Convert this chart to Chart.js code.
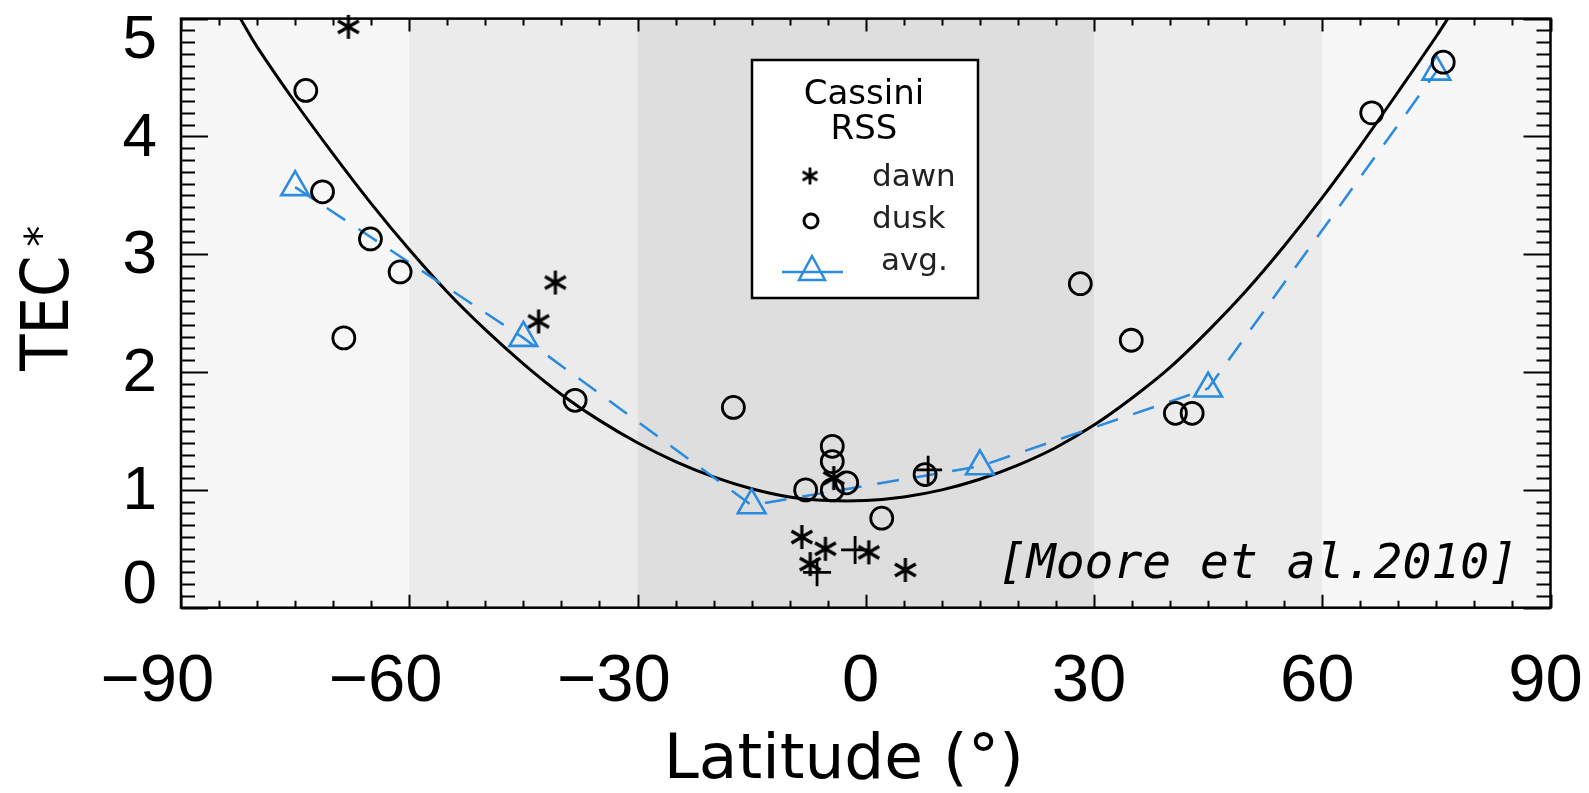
<!DOCTYPE html>
<html>
<head>
<meta charset="utf-8">
<title>TEC vs latitude</title>
<style>
  html, body { margin: 0; padding: 0; background: #fff; }
  #wrap { width: 1589px; height: 793px; }
</style>
</head>
<body>
<div id="wrap"><canvas id="tecChart" width="1589" height="793"></canvas></div>

<script src="https://cdn.jsdelivr.net/npm/chart.js@4.4.1/dist/chart.umd.min.js"></script>
<script>
// Cassini RSS, dawn occultations (asterisks)
var dawnLat = [-68.0, -40.8, -43.0, -8.4, -5.3, -7.3, 0.4, 5.2, -4.2];
var dawnTec = [4.93, 2.76, 2.43, 0.60, 0.50, 0.37, 0.47, 0.32, 1.10];

// dusk occultations (circles)
var duskLat = [-73.6, -71.4, -65.1, -61.2, -68.6, -38.2, -17.4, -4.4, -4.4, -7.9, -4.4, -2.5, 2.1, 7.8, 28.2, 34.9, 40.7, 42.9, 66.5, 75.9];
var duskTec = [4.39, 3.53, 3.13, 2.85, 2.29, 1.76, 1.70, 1.37, 1.24, 1.00, 1.00, 1.06, 0.76, 1.13, 2.75, 2.27, 1.65, 1.65, 4.20, 4.63];

// extra plus marks
var plusLat = [-1.4, -6.4, 8.2];
var plusTec = [0.49, 0.30, 1.17];

// 30-degree bin averages (blue triangles)
var avgLat = [-75, -45, -15, 15, 45, 75];
var avgTec = [3.57, 2.29, 0.87, 1.20, 1.86, 4.55];

// fitted curve (black)
var fitLat = [-82.2, -80, -75, -70, -65, -60, -55, -50, -45, -40, -35, -30, -25, -20, -15, -10, -5, 0,
              5, 10, 15, 20, 25, 30, 35, 40, 45, 50, 55, 60, 65, 70, 75, 76.5];
var fitTec = [5.0, 4.76, 4.29, 3.85, 3.43, 3.04, 2.68, 2.36, 2.07, 1.81, 1.59, 1.40, 1.24, 1.11, 1.01, 0.94, 0.91, 0.91,
              0.94, 1.0, 1.09, 1.21, 1.36, 1.55, 1.78, 2.04, 2.35, 2.69, 3.07, 3.48, 3.92, 4.38, 4.85, 5.0];

var xTicks = [-90, -60, -30, 0, 30, 60, 90];
var yTicks = [0, 1, 2, 3, 4, 5];

// shaded latitude bands
var bandEdges = [-90, -60, -30, 30, 60, 90];
var bandColors = ['#f7f7f7', '#ebebeb', '#dedede', '#ebebeb', '#f7f7f7'];

var BLUE = '#2a8be0';
var DIGITS = "'Liberation Sans', Arial, sans-serif";
var TITLES = "'DejaVu Sans', sans-serif";

function pts(xs, ys) {
  return xs.map(function (x, i) { return { x: x, y: ys[i] }; });
}

// IDL-like asterisk as an image point style
function makeAsterisk(size, lw) {
  var c = document.createElement('canvas');
  c.width = c.height = size;
  var g = c.getContext('2d');
  var m = size / 2, r = size / 2 - 1;
  g.strokeStyle = '#000';
  g.lineWidth = lw;
  for (var k = 0; k < 3; k++) {
    var a = Math.PI / 2 + k * Math.PI / 3;
    g.beginPath();
    g.moveTo(m + r * Math.cos(a), m + r * Math.sin(a));
    g.lineTo(m - r * Math.cos(a), m - r * Math.sin(a));
    g.stroke();
  }
  return c;
}
var starBig = makeAsterisk(26, 3.2);
var starSmall = makeAsterisk(19, 2.8);

var bands = {
  id: 'bands',
  beforeDatasetsDraw: function (chart) {
    var ctx = chart.ctx, a = chart.chartArea, xs = chart.scales.x;
    ctx.save();
    for (var i = 0; i < bandColors.length; i++) {
      var x0 = xs.getPixelForValue(bandEdges[i]);
      var x1 = xs.getPixelForValue(bandEdges[i + 1]);
      ctx.fillStyle = bandColors[i];
      ctx.fillRect(x0, a.top, x1 - x0, a.bottom - a.top);
    }
    ctx.restore();
  }
};

var frame = {
  id: 'frame',
  afterDatasetsDraw: function (chart) {
    var ctx = chart.ctx, a = chart.chartArea;
    var xs = chart.scales.x, ys = chart.scales.y;
    ctx.save();
    ctx.strokeStyle = '#000';
    ctx.lineWidth = 2;
    ctx.beginPath();
    // inward ticks on all four sides
    for (var lat = -90; lat <= 90; lat += 5) {
      var px = Math.round(xs.getPixelForValue(lat)) + 0.5;
      var len = (lat % 30 === 0) ? 13 : 7;
      ctx.moveTo(px, a.bottom); ctx.lineTo(px, a.bottom - len);
      ctx.moveTo(px, a.top); ctx.lineTo(px, a.top + len);
    }
    for (var k = 0; k <= 50; k++) {
      var py = Math.round(ys.getPixelForValue(k / 10)) + 0.5;
      var l2 = (k % 10 === 0) ? 27 : 14;
      ctx.moveTo(a.left, py); ctx.lineTo(a.left + l2, py);
      ctx.moveTo(a.right, py); ctx.lineTo(a.right - l2, py);
    }
    ctx.stroke();
    ctx.lineWidth = 2.5;
    ctx.strokeRect(a.left, a.top, a.right - a.left, a.bottom - a.top);

    // y tick labels, end labels kept inside the axis span
    ctx.fillStyle = '#000';
    ctx.font = '62px ' + DIGITS;
    ctx.textAlign = 'right';
    ctx.textBaseline = 'middle';
    yTicks.forEach(function (v) {
      var y = ys.getPixelForValue(v);
      y = Math.max(a.top + 20, Math.min(a.bottom - 24, y));
      ctx.fillText(String(v), a.left - 24, y + 2);
    });

    // axis titles
    ctx.textAlign = 'center';
    ctx.textBaseline = 'alphabetic';
    ctx.font = '63px ' + TITLES;
    ctx.fillText('Latitude (\u00b0)', (a.left + a.right) / 2 - 22, 778);

    ctx.save();
    ctx.translate(44, (a.top + a.bottom) / 2);
    ctx.rotate(-Math.PI / 2);
    ctx.font = "66px 'DejaVu Sans Condensed', 'Liberation Sans Narrow', " + TITLES;
    ctx.fillText('TEC', 0, 24);
    ctx.font = '42px ' + TITLES;
    ctx.fillText('*', 77, 11);
    ctx.restore();

    // reference tag
    ctx.font = "italic 48px 'DejaVu Sans Mono', monospace";
    ctx.textAlign = 'right';
    ctx.fillText('[Moore et al.2010]', 1518, 578);

    // legend box
    var bx = 752, by = 60, bw = 226, bh = 238;
    ctx.fillStyle = '#fff';
    ctx.fillRect(bx, by, bw, bh);
    ctx.lineWidth = 2.5;
    ctx.strokeRect(bx, by, bw, bh);
    ctx.fillStyle = '#000';
    ctx.textAlign = 'center';
    ctx.textBaseline = 'middle';
    ctx.font = '34px ' + TITLES;
    ctx.fillText('Cassini', 864, 95);
    ctx.fillText('RSS', 864, 130);
    ctx.drawImage(starSmall, 810 - 9.5, 176 - 9.5);
    ctx.lineWidth = 3;
    ctx.beginPath();
    ctx.arc(811, 221, 7, 0, Math.PI * 2);
    ctx.stroke();
    ctx.fillStyle = '#222';
    ctx.textAlign = 'left';
    ctx.font = '31px ' + TITLES;
    ctx.fillText('dawn', 872, 178);
    ctx.fillText('dusk', 872, 220);
    ctx.fillText('avg.', 881, 262);
    ctx.strokeStyle = BLUE;
    ctx.lineWidth = 2.5;
    ctx.beginPath();
    ctx.moveTo(782, 272); ctx.lineTo(843, 272);
    ctx.moveTo(812, 256); ctx.lineTo(825, 280); ctx.lineTo(799, 280); ctx.closePath();
    ctx.stroke();
    ctx.restore();
  }
};

new Chart(document.getElementById('tecChart'), {
  type: 'scatter',
  data: {
    datasets: [
      {
        label: 'dusk',
        data: pts(duskLat, duskTec),
        pointStyle: 'circle',
        pointRadius: 11,
        pointBorderWidth: 2.8,
        pointBorderColor: '#000',
        pointBackgroundColor: 'rgba(0,0,0,0)',
        clip: false
      },
      {
        label: 'dawn',
        data: pts(dawnLat, dawnTec),
        pointStyle: starBig,
        pointRadius: 13,
        clip: false
      },
      {
        label: 'plus',
        data: pts(plusLat, plusTec),
        pointStyle: 'cross',
        pointRadius: 14,
        pointBorderWidth: 2.8,
        pointBorderColor: '#000',
        clip: false
      },
      {
        label: 'avg.',
        data: pts(avgLat, avgTec),
        showLine: true,
        borderColor: BLUE,
        borderWidth: 2.5,
        borderDash: [22, 16],
        pointStyle: 'triangle',
        pointRadius: 16,
        pointBorderWidth: 2.6,
        pointBorderColor: BLUE,
        pointBackgroundColor: 'rgba(0,0,0,0)',
        clip: false
      },
      {
        label: 'fit',
        data: pts(fitLat, fitTec),
        showLine: true,
        borderColor: '#000',
        borderWidth: 3,
        tension: 0.35,
        pointRadius: 0
      }
    ]
  },
  options: {
    responsive: false,
    animation: false,
    events: [],
    layout: { padding: { left: 0, top: 12.7, right: 38.5, bottom: 0 } },
    plugins: {
      legend: { display: false },
      tooltip: { enabled: false }
    },
    scales: {
      x: {
        type: 'linear',
        min: -90,
        max: 90,
        grid: { display: false, drawTicks: false },
        border: { display: false },
        afterBuildTicks: function (s) { s.ticks = xTicks.map(function (v) { return { value: v }; }); },
        afterFit: function (s) { s.height = 185.3; s.paddingLeft = 0; s.paddingRight = 0; },
        ticks: {
          autoSkip: false,
          maxRotation: 0,
          padding: 35,
          labelOffset: -5,
          color: '#000',
          font: { family: DIGITS, size: 67 },
          // digits sit on the tick, the minus hangs to the left
          callback: function (v) { return v < 0 ? '\u2212' + Math.abs(v) + '\u2007' : String(v); }
        }
      },
      y: {
        type: 'linear',
        min: 0,
        max: 5,
        grid: { display: false, drawTicks: false },
        border: { display: false },
        afterBuildTicks: function (s) { s.ticks = yTicks.map(function (v) { return { value: v }; }); },
        afterFit: function (s) { s.width = 181; },
        ticks: { display: false }
      }
    }
  },
  plugins: [bands, frame]
});
</script>
</body>
</html>
